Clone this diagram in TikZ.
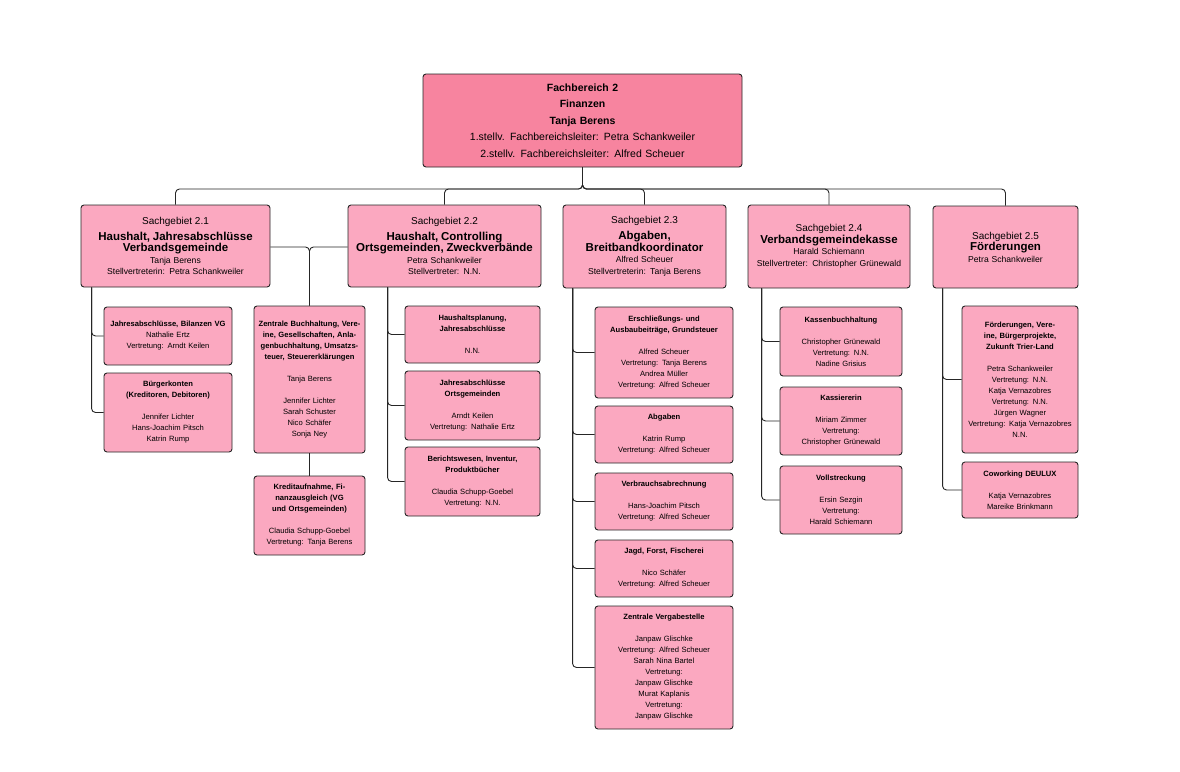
\documentclass[tikz,border=0pt]{standalone}
\usepackage{fontspec}
\setmainfont{Liberation Sans}
\usetikzlibrary{calc}
\begin{document}
\begin{tikzpicture}[x=1pt,y=-1pt,
  box/.style={draw=black!85,line width=0.9pt,rounded corners=3pt,fill=subpink,align=center,inner sep=2pt},
  conn/.style={draw=black!85,line width=0.9pt,rounded corners=4pt},
  sub/.style={font=\fontsize{7.6}{11}\selectfont},
  sg/.style={font=\fontsize{8.6}{11.5}\selectfont}]
\definecolor{subpink}{HTML}{FBA8C0}
\definecolor{toppink}{HTML}{F7849F}
\newcommand\bx[7][sub]{\node[box,#1,minimum width={(#5-#3)*1pt},minimum height={(#6-#4)*1pt},text width={(#5-#3-8)*1pt}] (#2) at ({(#3+#5)/2},{(#4+#6)/2}) {#7};}
\useasboundingbox (0,0) rectangle (1180,771);
\fill[white] (0,0) rectangle (1180,771);
\newcommand\T[1]{{\fontsize{11.5}{16}\selectfont\bfseries #1}}
\bx[sg,fill=toppink,font=\fontsize{10.5}{16.5}\selectfont]{top}{423}{74}{742}{167}{\textbf{Fachbereich 2}\\\textbf{Finanzen}\\\textbf{Tanja Berens}\\1.stellv. Fachbereichsleiter: Petra Schankweiler\\2.stellv. Fachbereichsleiter: Alfred Scheuer}
\bx[sg]{s1}{81}{205}{270}{287}{{\fontsize{10}{12}\selectfont Sachgebiet 2.1}\\\T{Haushalt, Jahresabschlüsse\\Verbandsgemeinde}\\Tanja Berens\\Stellvertreterin: Petra Schankweiler}
\bx[sg]{s2}{348}{205}{541}{287}{{\fontsize{10}{12}\selectfont Sachgebiet 2.2}\\\T{Haushalt, Controlling\\Ortsgemeinden, Zweckverbände}\\Petra Schankweiler\\Stellvertreter: N.N.}
\bx[sg]{s3}{563}{205}{726}{288}{{\fontsize{10}{12}\selectfont Sachgebiet 2.3}\\\T{Abgaben,\\Breitbandkoordinator}\\Alfred Scheuer\\Stellvertreterin: Tanja Berens}
\bx[sg]{s4}{748}{205}{910}{288}{{\fontsize{10}{12}\selectfont Sachgebiet 2.4}\\\T{Verbandsgemeindekasse}\\Harald Schiemann\\Stellvertreter: Christopher Grünewald}
\bx[sg]{s5}{933}{206}{1078}{288}{{\fontsize{10}{12}\selectfont Sachgebiet 2.5}\\\T{Förderungen}\\Petra Schankweiler}
% 2.1
\bx{a1}{104}{307}{232}{365}{\textbf{Jahresabschlüsse, Bilanzen VG}\\Nathalie Ertz\\Vertretung: Arndt Keilen}
\bx{a2}{104}{373}{232}{452}{\textbf{Bürgerkonten\\(Kreditoren, Debitoren)}\\[11pt]Jennifer Lichter\\Hans-Joachim Pitsch\\Katrin Rump}
\bx{c1}{254}{306}{365}{453}{\textbf{Zentrale Buchhaltung, Vereine, Gesellschaften, Anlagenbuchhaltung, Umsatzsteuer, Steuererklärungen}\\[11pt]Tanja Berens\\[11pt]Jennifer Lichter\\Sarah Schuster\\Nico Schäfer\\Sonja Ney}
\bx{c2}{254}{476}{365}{555}{\textbf{Kreditaufnahme, Finanzausgleich (VG und Ortsgemeinden)}\\[11pt]Claudia Schupp-Goebel\\Vertretung: Tanja Berens}
% 2.2
\bx{b1}{405}{306}{540}{363}{\textbf{Haushaltsplanung,\\Jahresabschlüsse}\\[11pt]N.N.}
\bx{b2}{405}{371}{540}{440}{\textbf{Jahresabschlüsse\\Ortsgemeinden}\\[11pt]Arndt Keilen\\Vertretung: Nathalie Ertz}
\bx{b3}{405}{447}{540}{516}{\textbf{Berichtswesen, Inventur,\\Produktbücher}\\[11pt]Claudia Schupp-Goebel\\Vertretung: N.N.}
% 2.3
\bx{d1}{595}{307}{733}{398}{\textbf{Erschließungs- und\\Ausbaubeiträge, Grundsteuer}\\[11pt]Alfred Scheuer\\Vertretung: Tanja Berens\\Andrea Müller\\Vertretung: Alfred Scheuer}
\bx{d2}{595}{406}{733}{463}{\textbf{Abgaben}\\[11pt]Katrin Rump\\Vertretung: Alfred Scheuer}
\bx{d3}{595}{473}{733}{530}{\textbf{Verbrauchsabrechnung}\\[11pt]Hans-Joachim Pitsch\\Vertretung: Alfred Scheuer}
\bx{d4}{595}{540}{733}{597}{\textbf{Jagd, Forst, Fischerei}\\[11pt]Nico Schäfer\\Vertretung: Alfred Scheuer}
\bx{d5}{595}{606}{733}{729}{\textbf{Zentrale Vergabestelle}\\[11pt]Janpaw Glischke\\Vertretung: Alfred Scheuer\\Sarah Nina Bartel\\Vertretung:\\Janpaw Glischke\\Murat Kaplanis\\Vertretung:\\Janpaw Glischke}
% 2.4
\bx{e1}{780}{307}{902}{376}{\textbf{Kassenbuchhaltung}\\[11pt]Christopher Grünewald\\Vertretung: N.N.\\Nadine Grisius}
\bx{e2}{780}{387}{902}{455}{\textbf{Kassiererin}\\[11pt]Miriam Zimmer\\Vertretung:\\Christopher Grünewald}
\bx{e3}{780}{466}{902}{534}{\textbf{Vollstreckung}\\[11pt]Ersin Sezgin\\Vertretung:\\Harald Schiemann}
% 2.5
\bx{f1}{962}{306}{1078}{453}{\textbf{Förderungen, Vereine, Bürgerprojekte, Zukunft Trier-Land}\\[11pt]Petra Schankweiler\\Vertretung: N.N.\\Katja Vernazobres\\Vertretung: N.N.\\Jürgen Wagner\\Vertretung: Katja Vernazobres\\N.N.}
\bx{f2}{962}{462}{1078}{518}{\textbf{Coworking DEULUX}\\[11pt]Katja Vernazobres\\Mareike Brinkmann}
% connectors
\coordinate (bus) at (583,189);
\foreach \s in {s1,s2,s3,s4,s5}{\draw[conn] (top.south) |- (\s.north |- bus) -- (\s.north);}
\draw[conn] (s1.east |- 0,247) -| (c1.north);
\draw[conn] (s2.west |- 0,247) -| (c1.north);
\draw[conn] (c1.south) -- (c2.north);
\foreach \n in {a1,a2}{\draw[conn] ($(s1.south west)+(11,0)$) |- (\n.west);}
\foreach \n in {b1,b2,b3}{\draw[conn] ($(s2.south west)+(40,0)$) |- (\n.west);}
\foreach \n in {d1,d2,d3,d4,d5}{\draw[conn] ($(s3.south west)+(10,0)$) |- (\n.west);}
\foreach \n in {e1,e2,e3}{\draw[conn] ($(s4.south west)+(14,0)$) |- (\n.west);}
\foreach \n in {f1,f2}{\draw[conn] ($(s5.south west)+(10,0)$) |- (\n.west);}
\end{tikzpicture}
\end{document}
